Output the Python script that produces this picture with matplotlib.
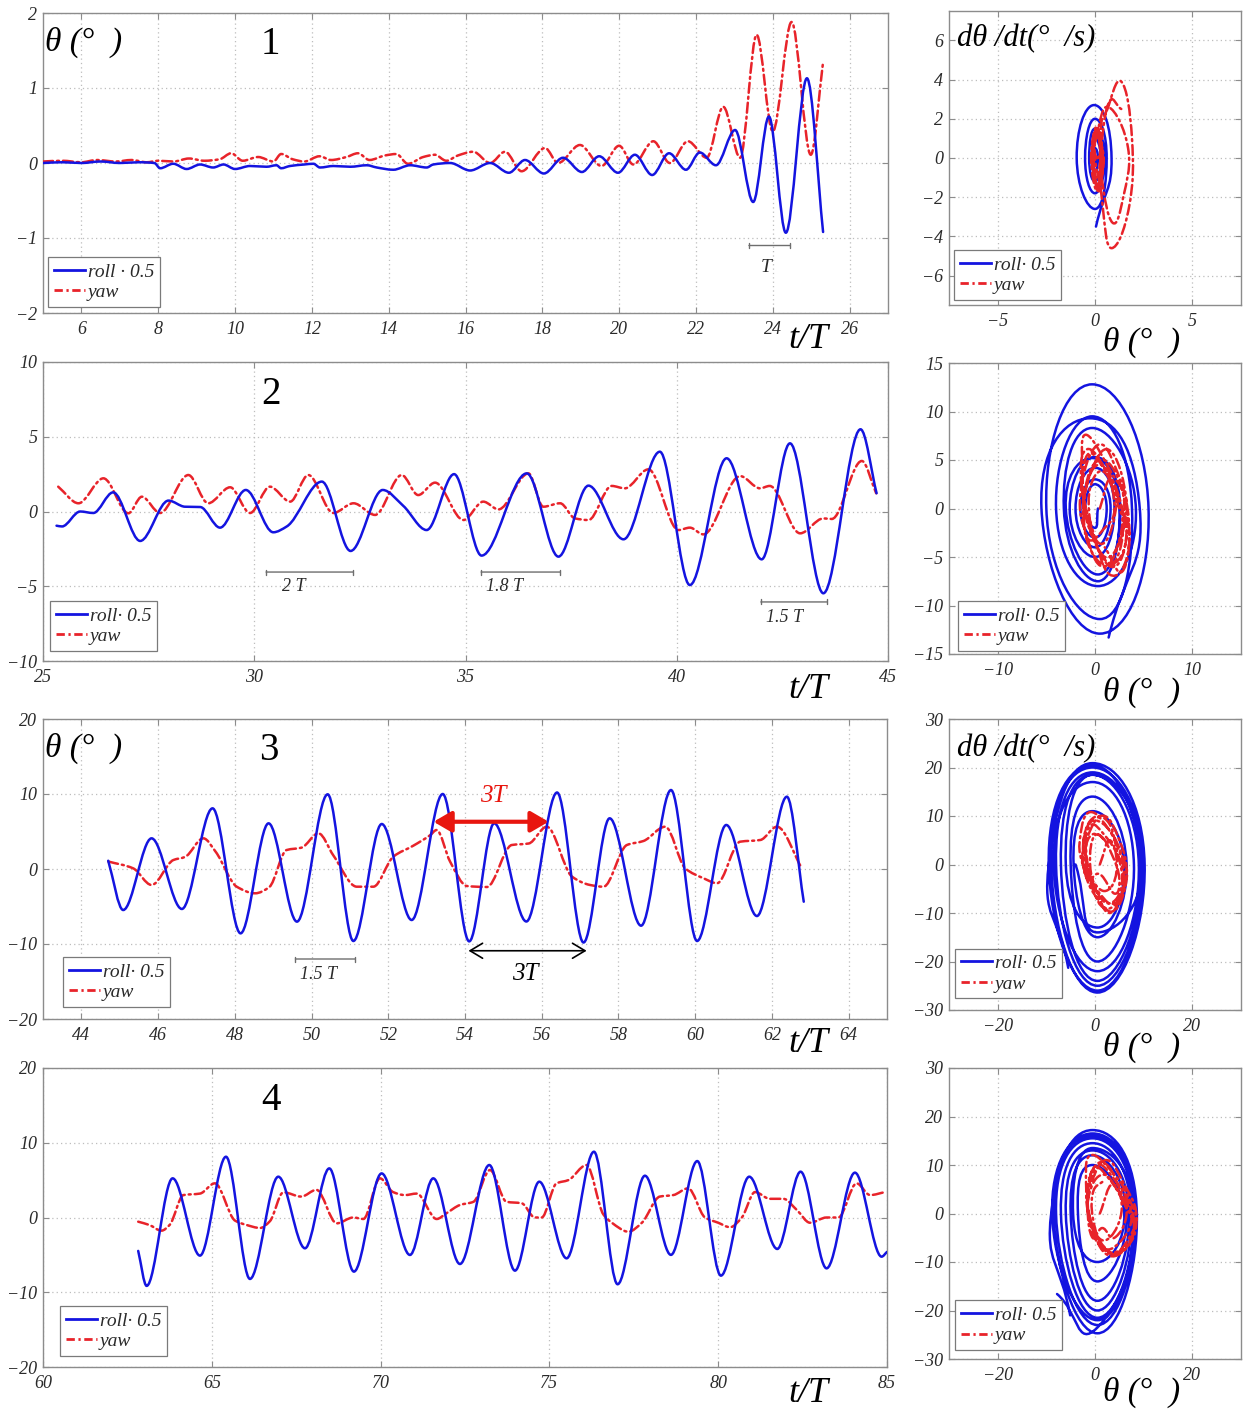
import numpy as np
import matplotlib
matplotlib.use("Agg")
import matplotlib.pyplot as plt
from matplotlib.path import Path
from matplotlib.patches import PathPatch
from matplotlib.lines import Line2D
from matplotlib.font_manager import FontProperties

# ---------------------------------------------------------------- data
# Run 1 : t/T, roll*0.5 and yaw (deg)
t1_roll = [5.0, 5.5, 6.0, 6.5, 7.0, 7.5, 7.9, 8.05, 8.39, 8.74, 9.09, 9.43, 9.7, 10.0,
           10.39, 10.82, 11.08, 11.2, 11.43, 11.8, 12.04, 12.21, 12.56, 13.0, 13.43,
           13.69, 14.12, 14.56, 14.99, 15.16, 15.6, 16.12, 16.64, 17.13, 17.55, 18.04,
           18.54, 19.03, 19.48, 19.97, 20.41, 20.86, 21.30, 21.74, 22.10, 22.52, 23.02,
           23.49, 23.90, 24.34, 24.89, 25.31]
roll1 = [0.0, 0.01, 0.0, 0.02, 0.0, 0.01, 0.0, -0.07, -0.01, -0.08, -0.02, -0.06, -0.02,
         -0.08, -0.04, -0.05, -0.03, -0.07, -0.04, -0.02, -0.01, -0.06, -0.04, -0.05,
         -0.03, -0.06, -0.09, -0.03, -0.06, -0.02, 0.0, -0.10, 0.0, -0.13, 0.04, -0.14,
         0.07, -0.12, 0.09, -0.13, 0.11, -0.16, 0.13, -0.09, 0.14, -0.03, 0.44, -0.52,
         0.62, -0.93, 1.13, -0.92]
t1_yaw = [5.0, 5.5, 6.0, 6.4, 6.9, 7.3, 7.7, 8.0, 8.4, 8.8, 9.2, 9.6, 9.9, 10.2, 10.6,
          11.0, 11.2, 11.5, 11.8, 12.2, 12.5, 12.9, 13.2, 13.5, 13.9, 14.2, 14.5, 14.9,
          15.2, 15.5, 15.8, 16.2, 16.64, 17.03, 17.46, 18.07, 18.41, 18.98, 19.54, 20.0,
          20.37, 20.89, 21.32, 21.79, 22.28, 22.71, 23.15, 23.58, 24.0, 24.49, 24.99, 25.31]
yaw1 = [0.02, 0.03, 0.01, 0.04, 0.02, 0.04, 0.01, 0.03, 0.02, 0.06, 0.03, 0.05, 0.13,
        0.03, 0.08, 0.02, 0.12, 0.05, 0.02, 0.09, 0.04, 0.08, 0.13, 0.04, 0.10, 0.12,
        -0.01, 0.08, 0.11, 0.03, 0.10, 0.15, 0.0, 0.15, -0.11, 0.20, 0.0, 0.24, -0.04,
        0.23, -0.02, 0.29, 0.0, 0.29, 0.07, 0.75, 0.07, 1.71, 0.42, 1.88, 0.11, 1.35]

# Run 2
t2_roll = [25.32, 25.45, 25.88, 26.19, 26.66, 27.30, 27.97, 28.36, 28.72, 29.19, 29.80,
           30.45, 30.77, 31.60, 32.28, 33.04, 33.53, 34.08, 34.73, 35.38, 36.45, 37.20,
           37.91, 38.74, 39.60, 40.31, 41.18, 42.01, 42.68, 43.47, 44.35, 44.73]
roll2 = [-0.95, -1.0, 0.0, -0.1, 1.28, -1.97, 0.73, 0.32, 0.30, -1.08, 1.44, -1.39, -1.0,
         2.0, -2.64, 1.44, 0.37, -1.24, 2.5, -2.95, 2.55, -3.02, 1.73, -1.86, 4.0, -4.92,
         3.56, -3.2, 4.56, -5.47, 5.5, 1.22]
t2_yaw = [25.36, 25.84, 26.43, 27.02, 27.34, 27.77, 28.44, 28.91, 29.43, 29.90, 30.37,
          30.85, 31.28, 31.87, 32.35, 32.86, 33.49, 33.88, 34.28, 34.95, 35.42, 35.78,
          36.49, 36.84, 37.24, 37.59, 37.91, 38.46, 38.77, 39.33, 40.04, 40.31, 40.63,
          41.50, 41.97, 42.20, 42.92, 43.47, 43.67, 44.38, 44.72]
yaw2 = [1.66, 0.55, 2.22, -0.12, 0.99, -0.10, 2.44, 0.55, 1.62, -0.10, 1.66, 0.66, 2.44,
        -0.10, 0.55, -0.23, 2.44, 1.10, 1.93, -0.57, 0.66, 0.14, 2.55, 0.32, 0.55, -0.46,
        -0.57, 1.71, 1.55, 2.82, -1.24, -1.08, -1.53, 2.37, 1.55, 1.71, -1.46, -0.46,
        -0.50, 3.38, 1.22]

# Run 3
t3_roll = [44.70, 45.09, 45.83, 46.62, 47.42, 48.15, 48.88, 49.62, 50.42, 51.09, 51.83,
           52.61, 53.42, 54.11, 54.76, 55.60, 56.40, 57.09, 57.77, 58.59, 59.37, 60.05,
           60.81, 61.61, 62.39, 62.83]
roll3 = [1.1, -5.47, 4.09, -5.33, 8.09, -8.58, 6.09, -7.02, 9.96, -9.6, 6.0, -6.8, 10.0,
         -9.65, 6.09, -7.0, 10.2, -9.8, 6.76, -7.56, 10.53, -9.6, 5.87, -6.27, 9.64, -4.36]
t3_yaw = [44.70, 45.35, 45.83, 46.40, 46.70, 47.18, 47.50, 48.05, 48.53, 48.90, 49.35,
          49.74, 50.18, 50.57, 51.18, 51.61, 52.13, 52.65, 53.09, 53.26, 53.61, 54.05,
          54.57, 55.22, 55.66, 56.13, 56.79, 57.26, 57.61, 58.22, 58.65, 59.22, 59.74,
          60.22, 60.57, 61.17, 61.70, 62.13, 62.78]
yaw3 = [1.0, 0.09, -2.13, 1.2, 1.6, 4.09, 2.3, -2.36, -3.24, -2.4, 2.53, 2.85, 4.76, 1.8,
        -2.36, -2.36, 1.64, 3.1, 4.5, 5.2, 1.0, -2.27, -2.4, 3.2, 3.4, 5.64, -1.02, -2.13,
        -2.36, 3.2, 3.73, 5.64, 0.09, -1.24, -1.9, 3.64, 3.87, 5.64, 0.09]

# Run 4
t4_roll = [62.82, 63.07, 63.84, 64.65, 65.42, 66.13, 66.97, 67.76, 68.48, 69.21, 70.03,
           70.87, 71.56, 72.35, 73.22, 73.98, 74.70, 75.51, 76.32, 77.02, 77.83, 78.60,
           79.38, 80.08, 80.92, 81.75, 82.44, 83.21, 84.05, 84.84, 85.0]
roll4 = [-4.47, -9.15, 5.24, -5.1, 8.13, -8.22, 5.46, -4.12, 6.57, -7.24, 5.9, -5.01,
         5.24, -6.22, 7.02, -7.11, 4.79, -5.46, 8.8, -8.93, 5.59, -5.0, 7.55, -7.78, 5.46,
         -4.21, 6.13, -6.8, 6.0, -5.24, -4.6]
t4_yaw = [62.82, 63.15, 63.51, 63.75, 64.16, 64.65, 65.09, 65.69, 66.03, 66.43, 66.72,
          67.12, 67.65, 68.10, 68.70, 69.19, 69.49, 69.98, 70.37, 70.72, 71.07, 71.66,
          71.96, 72.35, 72.75, 73.24, 73.73, 74.18, 74.57, 74.77, 75.21, 75.56, 76.10,
          76.60, 76.85, 77.34, 77.74, 78.27, 78.67, 79.11, 79.61, 80.00, 80.35, 80.70,
          81.09, 81.53, 81.93, 82.33, 82.72, 83.21, 83.56, 84.10, 84.50, 84.94]
yaw4 = [-0.56, -1.0, -1.76, -1.0, 3.0, 3.2, 4.57, -0.42, -1.0, -1.4, -0.5, 3.37, 2.8, 3.7,
        -0.78, 0.0, -0.2, 5.24, 3.4, 3.0, 3.2, -0.2, 0.6, 1.67, 2.1, 6.35, 2.1, 1.9, 0.0,
        0.0, 4.57, 5.0, 7.02, 0.4, -0.7, -1.9, -0.7, 2.8, 3.0, 3.9, 0.0, -0.7, -1.3, 0.0,
        3.4, 2.5, 2.5, 1.0, -0.7, 0.0, 0.0, 4.57, 3.0, 3.4]

# Phase portraits: theta (deg) and dtheta/dt (deg/s)
ph1_roll_th = [0.0, 0.08, 0.0, -0.08, 0.0, 0.15, 0.0, -0.15, 0.0, 0.3, 0.0, -0.3, 0.0,
               0.5, 0.0, -0.51, 0.0, 0.6, 0.0, -0.94, -0.05, 0.85, 0.05]
ph1_roll_v = [0.0, 0.0, -0.3, 0.0, 0.5, 0.0, -0.7, 0.0, 1.0, 0.0, -1.2, 0.0, 1.5, 0.0,
              -1.8, 0.0, 2.0, 0.0, -2.6, 0.0, 2.7, 0.0, -3.5]
ph1_yaw_th = [0.1, 0.35, 0.1, -0.15, 0.05, 0.3, 0.1, -0.2, 0.1, 0.4, 0.1, -0.1,
              0.1, 0.3, 0.1, -0.1, 0.1, 0.35, 0.15, -0.15, 0.1, 0.4, 0.2, -0.1, 0.15,
              0.45, 0.25, 0.0, 0.1, 0.7, 1.7, 1.45, 0.9, 0.35, 0.3, 0.6, 1.35, 1.9, 1.75,
              0.85, 0.4, 0.3, 0.7, 1.35]
ph1_yaw_v = [0.0, 0.0, -1.3, 0.0, 1.4, 0.0, -1.7, 0.0, 1.6, -0.3, -1.5, 0.3,
             0.0, 0.2, -1.0, 0.0, 1.2, 0.0, -1.5, 0.0, 1.5, 0.0, -1.7, 0.0, 1.0, 0.0,
             -1.0, 0.0, 1.2, 2.6, 0.5, -2.0, -3.3, -1.0, 1.5, 2.4, 3.9, 1.0, -2.5, -4.6,
             -2.5, 0.0, 2.8, 2.5]

ph2_roll_th = [0.3, 0.0, -1.0, 0.0, 1.2, 0.0, -1.5, 0.0, 1.6, 0.0, -2.0, 0.0, 2.0, 0.0,
               -2.6, 0.0, 2.6, 0.3, -3.0, -0.3, 2.5, 0.3, -3.2, -0.3, 4.2, 0.3, -4.0,
               -0.3, 3.8, 0.5, -5.0, -0.3, 5.5, 0.5, -5.5, -0.5, 4.6, 1.4]
ph2_roll_v = [0.0, -2.0, 0.0, 2.5, 0.0, -3.0, 0.0, 3.0, 0.0, -4.0, 0.0, 4.2, 0.0, -5.0,
              0.0, 5.3, 0.0, -6.8, 0.0, 5.2, 0.0, -7.5, 0.0, 8.3, 0.0, -8.0, 0.0, 9.5,
              0.0, -11.4, 0.0, 12.8, 0.0, -12.9, 0.0, 9.3, 0.0, -13.3]
ph2_yaw_th = [0.5, 1.5, 2.2, 1.0, -0.5, -1.0, 0.3, 2.0, 2.8, 1.5, -0.2, -1.2, -0.8, 1.0,
              2.6, 3.2, 2.0, 0.2, -1.0, -1.3, -0.9, 1.8, 3.0, 3.4, 1.5, -0.3, -1.4, -1.0,
              0.8, 2.5, 3.3, 2.2, 0.5, -0.6, -0.2, 1.2, 2.0, 1.0,
              -0.8, -1.0, 0.5, 2.4, 3.0, 2.0, 0.0, -1.2, -0.5, 1.5, 3.2, 2.5, 0.8, -0.8,
              -1.5, 0.2, 2.2, 3.5, 2.8, 1.0]
ph2_yaw_v = [0.0, 3.0, 0.5, -3.5, -2.0, 1.5, 4.5, 2.5, -1.5, -5.0, -3.0, 1.0, 5.5, 4.0,
             0.5, -3.0, -6.0, -4.0, 0.0, 4.0, 7.6, 3.5, 1.0, -4.5, -6.8, -2.0, 2.5, 6.0,
             4.5, 0.0, -2.5, -5.5, -4.5, -0.5, 3.0, 3.5, 0.0, -2.0,
             -3.0, 2.0, 5.0, 3.0, -1.0, -5.5, -5.0, -1.0, 3.5, 6.0, 1.0, -3.5, -6.0, -3.0,
             1.5, 6.5, 4.0, -1.5, -6.5, -4.0]

ph3_roll_th = [-5.5, -9.5, -0.5, 10.2, 0.5, -9.0, -0.5, 9.8, 0.5, -8.0, -0.5, 9.5, 0.5,
               -7.0, -0.5, 9.0, 0.5, -8.5, -0.5, 8.0, 0.5, -5.0, -0.5, 6.5, 0.5, -4.4,
               -0.5, 6.0, 0.5, -6.0, -0.5, 10.0, 0.5, -9.5, -0.5, 9.6, 0.5, -4.0]
ph3_roll_v = [-21.3, 0.0, 20.9, 0.0, -26.4, 0.0, 20.0, 0.0, -25.0, 0.0, 19.0, 0.0, -24.0,
              0.0, 18.5, 0.0, -22.0, 0.0, 17.0, 0.0, -20.0, 0.0, 14.0, 0.0, -15.0, 0.0,
              11.0, 0.0, -13.0, 0.0, 18.5, 0.0, -26.0, 0.0, 20.5, 0.0, -14.0, 0.0]
ph3_yaw_th = [1, 3, 4.5, 3, 0, -2, -1, 2, 5, 6, 4, 1, -2.5, -3, -1.0, 3, 5.5, 6.5, 4, 0.5,
              -2, -2.5, -1, 2.5, 4.5, 5.5, 3, 0, -1.5, -1.5, 1, 3.5, 5, 4, 1,
              -1.5, -2.5, -1.5, 1.5, 4.5, 6.0, 5.0, 2.0, -0.5, -2.0, -1.0, 2.0, 5.0, 6.5,
              5.5, 3.0, 0.5, -1.0, 0.0, 3.0]
ph3_yaw_v = [0, 5, 0, -5, -4, 2, 8, 6, 1, -4, -8, -6, 0, 6, 10.8, 7, 2, -3, -9.5, -7, -2,
             3, 9, 9, 3, -4, -8, -5, 0, 5, 6, 2, -3, -6, -2,
             -3.0, 2.0, 8.0, 8.5, 4.0, -2.0, -7.0, -9.0, -5.0, 1.0, 7.0, 10.0, 5.0, -1.0,
             -6.0, -10.0, -6.0, 0.0, 6.0, 4.0]

ph4_roll_th = [-5.1, -9.0, -0.5, 8.6, 0.5, -8.5, -0.5, 8.3, 0.5, -8.0, -0.5, 8.0, 0.5,
               -7.0, -0.5, 7.5, 0.5, -6.0, -0.5, 7.0, 0.5, -5.0, -0.5, 6.5, 0.5, -3.5,
               -0.5, 6.0, 0.5, -4.5, -0.5, 8.0, 0.5, -8.8, -0.5, 8.4, 0.5, -7.8]
ph4_roll_v = [-21.0, 0.0, 17.2, 0.0, -24.7, 0.0, 16.0, 0.0, -23.0, 0.0, 15.5, 0.0, -21.5,
              0.0, 14.5, 0.0, -20.0, 0.0, 13.0, 0.0, -18.0, 0.0, 12.0, 0.0, -14.0, 0.0,
              10.0, 0.0, -10.0, 0.0, 13.5, 0.0, -22.0, 0.0, 16.5, 0.0, -23.5, -16.6]
ph4_yaw_th = [1, 3.5, 5.5, 3, 0, -1.5, 0, 3, 6, 8, 5.5, 2, -1, -1.8, -1.0, 4, 7, 8.5, 6.5,
              2.5, -0.5, -1.5, -0.5, 2.5, 5.5, 7.5, 5, 1.5, -1, -1.2, 1.5, 4.5, 6.5, 4, 1.5,
              -0.5, -1.5, -0.5, 2.5, 6.0, 8.5, 7.0, 4.0, 1.0, -1.0, -1.5, 0.5, 4.0, 7.0,
              8.0, 6.0, 2.5, 0.0, -0.5, 2.0]
ph4_yaw_v = [0, 6, 1, -5, -4, 2, 9, 7, 2, -3, -8, -7, -1, 5, 12, 8, 3, -2, -7, -8.5, -3, 3,
             9, 10, 4, -1, -6, -7, -2, 4, 8, 5, 0, -5, -3,
             -5.0, 1.0, 7.0, 11.0, 6.0, 0.0, -5.0, -8.0, -6.0, -1.0, 5.0, 10.0, 7.0, 2.0,
             -3.0, -7.0, -8.0, -3.0, 4.0, 7.0]

# ---------------------------------------------------------------- style
W, H = 1245, 1411
BLUE = "#1414e0"
RED = "#e8232a"
GRID = "#bdbdbd"
SPINE = "#8c8c8c"
TXT = "#2a2a2a"
SERIF = ["Liberation Serif", "DejaVu Serif"]
YAW_LS = (0, (4, 1.6, 0.8, 1.6))

plt.rcParams.update({"font.family": SERIF, "font.style": "italic",
                     "axes.unicode_minus": True})

fig = plt.figure(figsize=(W / 100, H / 100), dpi=100)
fig.patch.set_facecolor("white")


def rect(l, t, r, b):
    return [l / W, 1 - b / H, (r - l) / W, (b - t) / H]


def fxy(x, y):
    return x / W, 1 - y / H


def pchip_slopes(x, y):
    h = np.diff(x)
    d = np.diff(y) / h
    m = np.zeros_like(y)
    for k in range(1, len(x) - 1):
        if d[k - 1] * d[k] <= 0:
            m[k] = 0.0
        else:
            w1 = 2 * h[k] + h[k - 1]
            w2 = h[k] + 2 * h[k - 1]
            m[k] = (w1 + w2) / (w1 / d[k - 1] + w2 / d[k])
    m[0], m[-1] = d[0], d[-1]
    return m


def series_path(x, y):
    x = np.asarray(x, float)
    y = np.asarray(y, float)
    m = pchip_slopes(x, y)
    verts = [(x[0], y[0])]
    codes = [Path.MOVETO]
    for i in range(len(x) - 1):
        h = x[i + 1] - x[i]
        verts += [(x[i] + h / 3, y[i] + m[i] * h / 3),
                  (x[i + 1] - h / 3, y[i + 1] - m[i + 1] * h / 3),
                  (x[i + 1], y[i + 1])]
        codes += [Path.CURVE4] * 3
    return Path(verts, codes)


def orbit_path(px_, py_, s=0.27):
    p = np.column_stack([px_, py_]).astype(float)
    ext = np.vstack([2 * p[0] - p[1], p, 2 * p[-1] - p[-2]])
    verts = [tuple(p[0])]
    codes = [Path.MOVETO]
    for i in range(len(p) - 1):
        a, b, c, d = ext[i], ext[i + 1], ext[i + 2], ext[i + 3]
        verts += [tuple(b + s * (c - a)), tuple(c - s * (d - b)), tuple(c)]
        codes += [Path.CURVE4] * 3
    return Path(verts, codes)


def draw(ax, path, color, ls="-", lw=1.8):
    ax.add_patch(PathPatch(path, fill=False, edgecolor=color, lw=lw, linestyle=ls,
                           capstyle="round", joinstyle="round", zorder=3))


def style(ax, xlim, ylim, xticks, yticks):
    ax.set_xlim(*xlim)
    ax.set_ylim(*ylim)
    ax.set_xticks(xticks)
    ax.set_yticks(yticks)
    for s in ax.spines.values():
        s.set_color(SPINE)
        s.set_linewidth(1.0)
    ax.tick_params(direction="in", length=4, width=0.8, color=SPINE, top=True,
                   right=True, labelsize=13, labelcolor=TXT)
    ax.tick_params(axis="x", pad=6)
    ax.tick_params(axis="y", pad=4)
    ax.grid(True, color=GRID, linestyle=(0, (1, 2.5)), linewidth=0.9)
    ax.set_axisbelow(True)


LEG_FONT = FontProperties(family=SERIF, style="italic", size=14)


def legend(ax, roll_label, anchor):
    h = [Line2D([], [], color=BLUE, lw=2.0),
         Line2D([], [], color=RED, lw=2.0, linestyle=(0, (3, 1.3, 0.8, 1.3)))]
    lg = ax.legend(h, [roll_label, "yaw"], loc="lower left", bbox_to_anchor=anchor,
                   prop=LEG_FONT, frameon=True, fancybox=False, handlelength=1.6,
                   handletextpad=0.15, borderpad=0.3, labelspacing=0.15,
                   borderaxespad=0.0)
    fr = lg.get_frame()
    fr.set_edgecolor("#7a7a7a")
    fr.set_linewidth(0.9)
    fr.set_alpha(1.0)
    for t in lg.get_texts():
        t.set_color(TXT)


def span(ax, x0, x1, y, label, lx, ly, size=13):
    ax.annotate("", xy=(x1, y), xytext=(x0, y),
                arrowprops=dict(arrowstyle="|-|, widthA=0.18, widthB=0.18",
                                color="#6e6e6e", lw=1.0, shrinkA=0, shrinkB=0))
    ax.text(lx, ly, label, ha="center", va="center", fontsize=size, color=TXT)


# ---------------------------------------------------------------- layout
left_rects = [(43, 13, 888, 313), (43, 362, 888, 661), (43, 719, 887, 1019),
              (43, 1068, 887, 1367)]
right_rects = [(949, 11, 1241, 305), (949, 363, 1241, 654), (949, 719, 1241, 1010),
               (949, 1068, 1241, 1359)]

left_cfg = [
    ((5, 27), (-2, 2), np.arange(6, 27, 2), [-2, -1, 0, 1, 2]),
    ((25, 45), (-10, 10), [25, 30, 35, 40, 45], [-10, -5, 0, 5, 10]),
    ((43, 65), (-20, 20), np.arange(44, 65, 2), [-20, -10, 0, 10, 20]),
    ((60, 85), (-20, 20), [60, 65, 70, 75, 80, 85], [-20, -10, 0, 10, 20]),
]
right_cfg = [
    ((-7.5, 7.5), (-7.5, 7.5), [-5, 0, 5], [-6, -4, -2, 0, 2, 4, 6]),
    ((-15, 15), (-15, 15), [-10, 0, 10], [-15, -10, -5, 0, 5, 10, 15]),
    ((-30, 30), (-30, 30), [-20, 0, 20], [-30, -20, -10, 0, 10, 20, 30]),
    ((-30, 30), (-30, 30), [-20, 0, 20], [-30, -20, -10, 0, 10, 20, 30]),
]

series = [(t1_roll, roll1, t1_yaw, yaw1), (t2_roll, roll2, t2_yaw, yaw2),
          (t3_roll, roll3, t3_yaw, yaw3), (t4_roll, roll4, t4_yaw, yaw4)]
phases = [(ph1_roll_th, ph1_roll_v, ph1_yaw_th, ph1_yaw_v),
          (ph2_roll_th, ph2_roll_v, ph2_yaw_th, ph2_yaw_v),
          (ph3_roll_th, ph3_roll_v, ph3_yaw_th, ph3_yaw_v),
          (ph4_roll_th, ph4_roll_v, ph4_yaw_th, ph4_yaw_v)]

left_leg = [(0.006, 0.02), (0.008, 0.033), (0.024, 0.04), (0.02, 0.037)]
right_leg = [(0.017, 0.017), (0.03, 0.01), (0.02, 0.04), (0.02, 0.03)]
roll_labels = ["roll · 0.5", "roll· 0.5", "roll· 0.5", "roll· 0.5"]

axL, axR = [], []
for i in range(4):
    ax = fig.add_axes(rect(*left_rects[i]))
    style(ax, *left_cfg[i])
    tr, r, ty, y = series[i]
    draw(ax, series_path(ty, y), RED, YAW_LS)
    draw(ax, series_path(tr, r), BLUE)
    legend(ax, roll_labels[i], left_leg[i])
    axL.append(ax)

    ax2 = fig.add_axes(rect(*right_rects[i]))
    style(ax2, *right_cfg[i])
    rth, rv, yth, yv = phases[i]
    draw(ax2, orbit_path(rth, rv, 0.27), BLUE)
    draw(ax2, orbit_path(yth, yv, 0.22), RED, YAW_LS)
    legend(ax2, "roll· 0.5", right_leg[i])
    axR.append(ax2)

# ---------------------------------------------------------------- labels
for num, (x, y) in zip("1234", [(270, 45), (271, 395), (269, 751), (271, 1100)]):
    fig.text(*fxy(x, y), num, fontsize=28, fontstyle="normal", ha="center",
             va="center", color="black")

for y in [340, 690, 1043, 1394]:
    fig.text(*fxy(808, y), "t/T", fontsize=26, ha="center", va="center", color="black")
for y in [342, 692, 1047, 1392]:
    fig.text(*fxy(1103, y), "θ (°  )", fontsize=24, ha="left", va="center",
             color="black")
for y in [42, 748]:
    fig.text(*fxy(45, y), "θ (°  )", fontsize=24, ha="left", va="center", color="black")
for y in [39, 749]:
    fig.text(*fxy(957, y), "dθ /dt(°  /s)", fontsize=22, ha="left", va="center",
             color="black")

# period markers
span(axL[0], 23.38, 24.45, -1.1, "T", 23.82, -1.39, 14)
span(axL[1], 30.28, 32.34, -4.05, "2 T", 30.94, -5.05)
span(axL[1], 35.37, 37.24, -4.05, "1.8 T", 35.93, -5.05)
span(axL[1], 41.99, 43.55, -6.05, "1.5 T", 42.56, -7.06)
span(axL[2], 49.58, 51.14, -12.0, "1.5 T", 50.18, -14.1)

axL[2].annotate("", xy=(56.18, 6.3), xytext=(53.18, 6.3),
                arrowprops=dict(arrowstyle="<|-|>, head_length=0.6, head_width=0.35",
                                color="#e8160f", lw=3.0, shrinkA=0, shrinkB=0,
                                mutation_scale=18), zorder=5)
axL[2].text(54.74, 9.73, "3T", color="#e8160f", fontsize=18, ha="center", va="center")
axL[2].annotate("", xy=(57.17, -10.9), xytext=(54.09, -10.9),
                arrowprops=dict(arrowstyle="<->, head_length=0.5, head_width=0.3",
                                color="black", lw=1.2, shrinkA=0, shrinkB=0,
                                mutation_scale=18), zorder=5)
axL[2].text(55.58, -14.0, "3T", color="black", fontsize=18, ha="center", va="center")

fig.savefig("out.png", dpi=100, facecolor="white")
